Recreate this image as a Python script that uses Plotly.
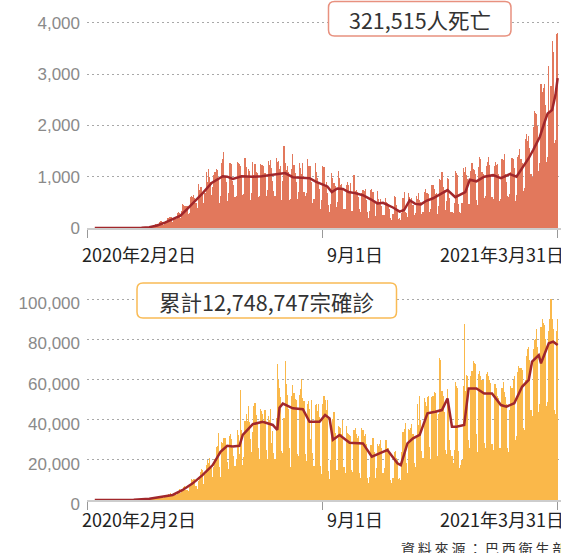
import plotly.graph_objects as go
import pandas as pd

# ---------------- data ----------------
start_date = "2020-02-09"   # first day of the daily series (Sunday)

deaths = (
    [0] * 35 +
    [0, 0, 1, 3, 3, 4, 7] +
    [9, 9, 12, 10, 11, 15, 22] +
    [22, 23, 42, 40, 58, 60, 73] +
    [54, 67, 114, 133, 141, 115, 68] +
    [99, 105, 204, 188, 217, 206, 217] +
    [115, 160, 170, 170, 300, 320, 300] +
    [189, 338, 474, 449, 435, 428, 421] +
    [275, 296, 600, 615, 610, 650, 580] +
    [480, 396, 850, 749, 800, 790, 700] +
    [485, 674, 1100, 888, 1150, 1001, 900] +
    [653, 807, 1039, 1086, 1156, 1124, 956] +
    [480, 623, 1262, 1349, 1473, 1005, 904] +
    [525, 679, 1272, 1274, 1239, 909, 843] +
    [612, 627, 1282, 1269, 1238, 1206, 1022] +
    [641, 654, 1374, 1185, 990, 1141, 1109] +
    [552, 692, 1280, 1038, 1252, 1091, 1071] +
    [602, 620, 1254, 1223, 1220, 1214, 1071] +
    [631, 733, 1300, 1233, 1322, 1163, 921] +
    [716, 632, 1367, 1284, 1311, 1156, 1211] +
    [555, 921, 1595, 1262, 1129, 1212, 1088] +
    [541, 561, 1154, 1437, 1226, 1079, 905] +
    [572, 703, 1274, 1175, 1060, 1262, 709] +
    [620, 684, 1352, 1204, 1204, 1212, 892] +
    [494, 565, 1271, 1085, 984, 855, 758] +
    [366, 553, 1215, 1184, 834, 892, 682] +
    [447, 310, 476, 1075, 983, 874, 814] +
    [415, 507, 1113, 967, 829, 858, 739] +
    [377, 363, 836, 906, 831, 729, 869] +
    [335, 341, 1031, 729, 733, 706, 595] +
    [366, 310, 683, 734, 730, 754, 543] +
    [309, 201, 341, 747, 754, 705, 493] +
    [230, 461, 716, 566, 497, 571, 432] +
    [249, 263, 586, 510, 496, 466, 368] +
    [190, 162, 274, 631, 610, 451, 345] +
    [172, 189, 165, 287, 594, 704, 303] +
    [301, 216, 676, 605, 550, 583, 455] +
    [248, 302, 630, 568, 691, 550, 504] +
    [272, 317, 697, 755, 675, 683, 654] +
    [313, 376, 842, 848, 770, 672, 686] +
    [279, 433, 964, 936, 1092, 795, 736] +
    [345, 522, 968, 963, 593, 318, 314] +
    [287, 485, 1111, 1074, 1036, 462, 314] +
    [293, 480, 1171, 1100, 1180, 1035, 960] +
    [469, 477, 1110, 1274, 1151, 1131, 1050] +
    [551, 452, 1183, 1382, 1340, 1096, 1054] +
    [592, 627, 1214, 1283, 1386, 1231, 1000] +
    [595, 570, 1210, 1294, 1232, 1239, 1050] +
    [526, 558, 1350, 1330, 1452, 1051, 899] +
    [631, 597, 672, 1090, 1367, 1344, 1178] +
    [527, 639, 1386, 1428, 1541, 1337, 1275] +
    [721, 778, 1726, 1840, 1699, 1800, 1555] +
    [1054, 987, 1972, 2286, 2233, 2216, 1998] +
    [1111, 1275, 2798, 2648, 2724, 2815, 2406] +
    [1290, 1383, 3158, 2244, 2777, 3650, 3438] +
    [1656, 1710, 3780, 3800]
)

cases = (
    [0, 0, 0, 0, 0, 0, 0] +
    [0, 0, 0, 0, 0, 0, 0] +
    [0, 0, 0, 1, 0, 0, 1] +
    [0, 0, 0, 1, 4, 4, 6] +
    [6, 5, 9, 18, 25, 21, 23] +
    [79, 34, 57, 137, 193, 283, 224] +
    [418, 345, 310, 232, 482, 502, 487] +
    [352, 323, 1138, 1119, 1074, 1146, 1222] +
    [852, 926, 1661, 2210, 1930, 1781, 1089] +
    [1442, 1261, 1832, 3058, 2105, 3257, 2917] +
    [2055, 1927, 2498, 2678, 3735, 3503, 5514] +
    [3379, 4613, 5385, 6276, 7218, 5015, 4970] +
    [4588, 6633, 6935, 10503, 9888, 10222, 10611] +
    [6760, 5632, 9258, 11385, 13944, 15305, 14919] +
    [7938, 13140, 17408, 19951, 18508, 20803, 16508] +
    [15813, 11687, 16324, 20599, 26417, 26928, 33274] +
    [16409, 11598, 28936, 28633, 30925, 30830, 27075] +
    [18912, 15654, 32091, 32913, 30412, 25982, 21704] +
    [17110, 20647, 34918, 32188, 22765, 54771, 34666] +
    [17459, 21432, 39436, 42725, 39483, 46860, 38693] +
    [30476, 24052, 33846, 46712, 48105, 42223, 37923] +
    [26051, 20229, 45305, 44571, 42619, 39023, 45048] +
    [24831, 20286, 41857, 39924, 45403, 28532, 34177] +
    [23529, 20257, 41008, 67860, 59961, 55891, 51147] +
    [24578, 23284, 40816, 69074, 57837, 52383, 45392] +
    [25800, 16641, 51603, 57152, 53139, 50230, 49970] +
    [23010, 22048, 52160, 55155, 60091, 50644, 49274] +
    [23101, 19373, 47784, 49298, 45323, 30355, 50032] +
    [23421, 17078, 47134, 47784, 44235, 47828, 41350] +
    [17000, 13000, 48000, 52000, 50000, 45000, 50000] +
    [14521, 10273, 20000, 35816, 40557, 43718, 33523] +
    [14768, 15155, 36653, 36303, 35816, 33057, 39797] +
    [16389, 13439, 36820, 33536, 32817, 32445, 31911] +
    [15000, 14000, 35000, 36000, 33000, 31000, 32000] +
    [13493, 11000, 36000, 35000, 32000, 33000, 28000] +
    [11207, 8456, 11251, 27229, 27235, 30914, 24062] +
    [10982, 15783, 28000, 26721, 28000, 30026, 26000] +
    [13493, 15726, 30000, 29787, 26000, 26106, 24000] +
    [10100, 8501, 10917, 23976, 24590, 21000, 20000] +
    [10554, 11000, 10000, 23973, 33922, 35294, 38307] +
    [18615, 13371, 35294, 35000, 35918, 38000, 33000] +
    [18615, 16207, 31100, 47898, 37614, 52000, 40000] +
    [24468, 21138, 50909, 48745, 46884, 51088, 51834] +
    [26363, 20371, 51088, 52000, 54000, 53347, 43900] +
    [21825, 42889, 70574, 69826, 54428, 52000, 44000] +
    [25019, 23000, 55202, 46000, 30000, 25000, 22000] +
    [18479, 25000, 58718, 56773, 55649, 24605, 15827] +
    [17341, 20006, 56648, 87843, 54428, 62290, 62000] +
    [29792, 25822, 61804, 64385, 69198, 68138, 67708] +
    [33040, 23671, 63000, 64385, 62000, 60000, 60000] +
    [28323, 26000, 63000, 64000, 61811, 59826, 58200] +
    [28000, 25000, 58000, 58000, 56000, 52000, 51000] +
    [26000, 25822, 56000, 59000, 54000, 51200, 48000] +
    [26000, 24000, 45000, 57000, 56000, 60000, 62000] +
    [30000, 32000, 64000, 67000, 66000, 66000, 65000] +
    [35800, 35000, 60000, 71704, 75102, 76000, 69600] +
    [45000, 42000, 75000, 79876, 80000, 85000, 76000] +
    [44000, 48000, 86000, 90303, 88000, 87000, 80000] +
    [47000, 49000, 84000, 89992, 100158, 90000, 85000] +
    [45000, 43000, 84000, 90000]
)

# 7-day average line
death_avg_dates = [
    "2020-02-09", "2020-03-15", "2020-03-22", "2020-03-29", "2020-04-05", "2020-04-12",
    "2020-04-19", "2020-04-26", "2020-05-02", "2020-05-09", "2020-05-16", "2020-05-24",
    "2020-05-30", "2020-06-03", "2020-06-07", "2020-06-12", "2020-06-20", "2020-06-30",
    "2020-07-08", "2020-07-16", "2020-07-24", "2020-07-29", "2020-08-05", "2020-08-12",
    "2020-08-20", "2020-08-26", "2020-08-31", "2020-09-05", "2020-09-09", "2020-09-14",
    "2020-09-19", "2020-09-24", "2020-09-30", "2020-10-07", "2020-10-14", "2020-10-20",
    "2020-10-25", "2020-10-29", "2020-11-03", "2020-11-09", "2020-11-13", "2020-11-18",
    "2020-11-23", "2020-11-28", "2020-12-03", "2020-12-09", "2020-12-15", "2020-12-22",
    "2020-12-29", "2021-01-03", "2021-01-07", "2021-01-11", "2021-01-17", "2021-01-24",
    "2021-02-01", "2021-02-08", "2021-02-16", "2021-02-22", "2021-02-28", "2021-03-05",
    "2021-03-09", "2021-03-15", "2021-03-19", "2021-03-22", "2021-03-26", "2021-03-29",
    "2021-03-31",
]
death_avg = [
    0, 0, 5, 15, 50, 105,
    175, 240, 370, 520, 680, 880,
    960, 1010, 1000, 955, 1010, 1000,
    1010, 1030, 1060, 1070, 990, 980,
    970, 900, 850, 810, 700, 770,
    760, 700, 680, 640, 560, 480,
    490, 450, 400, 320, 350, 540,
    470, 460, 530, 580, 650, 740,
    600, 660, 700, 940, 910, 1000,
    1030, 970, 1050, 1000, 1190, 1360,
    1520, 1780, 2050, 2230, 2300, 2590,
    2920,
]

case_avg_dates = [
    "2020-02-09", "2020-03-15", "2020-03-29", "2020-04-10", "2020-04-19", "2020-04-28",
    "2020-05-07", "2020-05-16", "2020-05-25", "2020-06-01", "2020-06-07", "2020-06-12",
    "2020-06-18", "2020-06-21", "2020-06-30", "2020-07-09", "2020-07-18", "2020-07-22",
    "2020-07-24", "2020-07-27", "2020-08-05", "2020-08-14", "2020-08-20", "2020-08-29",
    "2020-09-03", "2020-09-07", "2020-09-10", "2020-09-16", "2020-09-25", "2020-10-07",
    "2020-10-15", "2020-10-25", "2020-10-29", "2020-11-07", "2020-11-10", "2020-11-16",
    "2020-11-21", "2020-11-27", "2020-12-04", "2020-12-11", "2020-12-17", "2020-12-22",
    "2020-12-26", "2020-12-30", "2021-01-06", "2021-01-10", "2021-01-17", "2021-01-24",
    "2021-01-31", "2021-02-08", "2021-02-13", "2021-02-20", "2021-02-27", "2021-03-05",
    "2021-03-08", "2021-03-14", "2021-03-16", "2021-03-23", "2021-03-27", "2021-03-31",
]
case_avg = [
    0, 100, 600, 1600, 2500, 5000,
    8300, 12500, 17400, 24000, 27000, 26600,
    27000, 32400, 37800, 39000, 37400, 34900,
    46000, 48000, 45700, 45200, 39000, 39000,
    42400, 40700, 30000, 32400, 28500, 28200,
    21600, 24000, 24900, 18300, 17400, 28200,
    30700, 32400, 43200, 44000, 44800, 50600,
    36500, 36500, 37400, 55600, 55600, 53100,
    53100, 47300, 46500, 48200, 56400, 59800,
    68900, 72200, 68100, 78100, 78900, 77200,
]

x_tick_dates = ["2020-02-02", "2020-09-01", "2021-03-31"]
x_tick_labels = ["2020年2月2日", "9月1日", "2021年3月31日"]
death_ticks = [0, 1000, 2000, 3000, 4000]
case_ticks = [0, 20000, 40000, 60000, 80000, 100000]
death_title = "321,515人死亡"
case_title = "累計12,748,747宗確診"
source_text = "\u2009".join("資料來源：巴西衛生部")

# ---------------- figure ----------------
W, H = 561, 553
ML = 87
PW = W - ML

dates = pd.date_range(start_date, periods=len(deaths), freq="D")
dates_c = pd.date_range(start_date, periods=len(cases), freq="D")

DEATH_BAR = "#e2785c"
CASE_BAR = "#fab84a"
LINE = "#a1272b"
DAY_MS = 86400000


def px_x(px):
    return (px - ML) / PW


def px_y(py):
    return 1 - py / H


def rounded_rect(x0, y0, x1, y1, r):
    pts = [
        ("M", x0 + r, y0), ("L", x1 - r, y0), ("Q", x1, y0, x1, y0 + r),
        ("L", x1, y1 - r), ("Q", x1, y1, x1 - r, y1), ("L", x0 + r, y1),
        ("Q", x0, y1, x0, y1 - r), ("L", x0, y0 + r), ("Q", x0, y0, x0 + r, y0),
    ]
    out = []
    for p in pts:
        cmd = p[0]
        coords = p[1:]
        s = []
        for i in range(0, len(coords), 2):
            s.append(f"{px_x(coords[i]):.5f},{px_y(coords[i+1]):.5f}")
        out.append(cmd + " " + " ".join(s))
    return " ".join(out) + " Z"


fig = go.Figure()
fig.add_trace(go.Bar(x=dates, y=deaths, width=DAY_MS,
                     marker=dict(color=DEATH_BAR, line=dict(width=0)),
                     xaxis="x", yaxis="y", hoverinfo="skip"))
fig.add_trace(go.Scatter(x=death_avg_dates, y=death_avg, mode="lines",
                         line=dict(color=LINE, width=2.5),
                         xaxis="x", yaxis="y", hoverinfo="skip"))
fig.add_trace(go.Bar(x=dates_c, y=cases, width=DAY_MS,
                     marker=dict(color=CASE_BAR, line=dict(width=0)),
                     xaxis="x2", yaxis="y2", hoverinfo="skip"))
fig.add_trace(go.Scatter(x=case_avg_dates, y=case_avg, mode="lines",
                         line=dict(color=LINE, width=2.5),
                         xaxis="x2", yaxis="y2", hoverinfo="skip"))

xcommon = dict(
    type="date", range=["2020-02-02", "2021-04-03"], showgrid=False,
    showline=True, linecolor="#cdcdcd", linewidth=2,
    ticks="outside", ticklen=8, tickwidth=1, tickcolor="#999999",
    tickvals=x_tick_dates, showticklabels=False, zeroline=False, fixedrange=True,
)
ycommon = dict(
    showgrid=True, gridcolor="#a8a8a8", gridwidth=1.2, griddash="2px,3px",
    zeroline=False, showline=False, ticks="",
    tickfont=dict(family="Liberation Sans", size=17, color="#8a8a8a"),
    tickformat=",d", ticklabelstandoff=6, fixedrange=True,
)

fig.update_layout(
    width=W, height=H, template="none",
    margin=dict(l=ML, r=0, t=0, b=0, autoexpand=False),
    paper_bgcolor="white", plot_bgcolor="white",
    showlegend=False, bargap=0,
    xaxis=dict(anchor="y", domain=[0, 1], **xcommon),
    xaxis2=dict(anchor="y2", domain=[0, 1], **xcommon),
    yaxis=dict(anchor="x", domain=[px_y(228), px_y(5)], range=[0, 4347],
               tickvals=death_ticks, **ycommon),
    yaxis2=dict(anchor="x2", domain=[px_y(500), px_y(285)], range=[0, 107125],
                tickvals=case_ticks, ticklabelshift=4, **ycommon),
)

shapes = [
    dict(type="path", xref="paper", yref="paper", layer="above",
         path=rounded_rect(328.5, 1.5, 511, 36, 6),
         line=dict(color="#e8917f", width=1.5), fillcolor="white"),
    dict(type="path", xref="paper", yref="paper", layer="above",
         path=rounded_rect(137, 283, 396.5, 318, 6),
         line=dict(color="#f9bb55", width=1.5), fillcolor="white"),
]
fig.update_layout(shapes=shapes)

ann = []
ann.append(dict(text=death_title, xref="paper", yref="paper",
                x=px_x(419.7), y=px_y(19), xanchor="center", yanchor="middle",
                showarrow=False,
                font=dict(family="Noto Sans CJK TC", size=21.5, color="#333333")))
ann.append(dict(text=case_title, xref="paper", yref="paper",
                x=px_x(266.7), y=px_y(301), xanchor="center", yanchor="middle",
                showarrow=False,
                font=dict(family="Noto Sans CJK TC", size=21.5, color="#333333")))

label_font = dict(family="Noto Sans CJK TC", size=18, color="#222222")
anchors = [("left", -7), ("left", 2), ("right", 8)]
for xr, ypx in (("x", 254), ("x2", 519)):
    for d, lab, (xa, sh) in zip(x_tick_dates, x_tick_labels, anchors):
        ann.append(dict(text=lab, xref=xr, yref="paper", x=d, y=px_y(ypx),
                        xanchor=xa, yanchor="middle", xshift=sh,
                        showarrow=False, font=label_font))

ann.append(dict(text=source_text, xref="paper", yref="paper",
                x=px_x(399), y=px_y(548), xanchor="left", yanchor="middle",
                showarrow=False,
                font=dict(family="Noto Sans CJK TC", size=14, color="#333333")))
fig.update_layout(annotations=ann)

fig.write_html(
    "out.html",
    config={"displayModeBar": False, "staticPlot": True},
    post_script="document.body.style.margin='0';document.body.style.overflow='hidden';",
)
